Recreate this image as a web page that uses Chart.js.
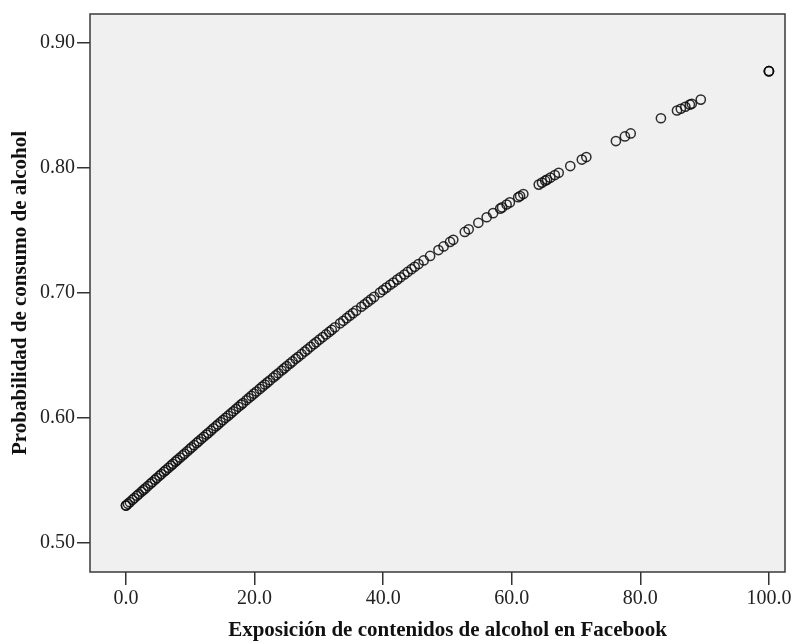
<!DOCTYPE html>
<html>
<head>
<meta charset="utf-8">
<script src="https://cdn.jsdelivr.net/npm/chart.js@4/dist/chart.umd.min.js"></script>
<style>
  html, body { margin: 0; padding: 0; background: #ffffff; }
  #wrap { width: 796px; height: 644px; }
</style>
</head>
<body>
<div id="wrap"><canvas id="c" width="796" height="644"></canvas></div>
<script>
// ---- Data ----
const exposicion = [
  0.0, 0.0, 0.3, 0.6, 1.0, 1.3, 1.7, 2.0, 2.4, 2.7, 3.0, 3.4, 3.8, 4.1, 4.5, 4.8,
  5.2, 5.5, 5.9, 6.2, 6.6, 7.0, 7.3, 7.7, 8.0, 8.4, 8.8, 9.1, 9.5, 9.9,
  10.2, 10.6, 11.0, 11.3, 11.7, 12.1, 12.5, 12.8, 13.2, 13.6, 14.0, 14.3, 14.7,
  15.1, 15.5, 15.9, 16.3, 16.7, 17.1, 17.5, 17.9, 18.2, 18.7, 19.1, 19.5, 19.9,
  20.3, 20.8, 21.2, 21.6, 22.0, 22.4, 22.9, 23.3, 23.7, 24.2, 24.6,
  25.0, 25.5, 25.9, 26.4, 26.8, 27.3, 27.8, 28.2, 28.7, 29.2, 29.6,
  30.1, 30.6, 31.1, 31.6, 32.0, 32.5, 33.3, 33.8, 34.3, 34.8,
  35.3, 35.8, 36.6, 37.1, 37.6, 38.1, 38.6, 39.5,
  40.0, 40.5, 41.1, 41.6, 42.2, 42.7, 43.3, 43.8, 44.4, 44.9,
  45.5, 46.3, 47.3, 48.6, 49.4,
  50.4, 50.9, 52.7, 53.3, 54.8,
  56.1, 57.1, 58.2, 58.5, 59.2, 59.7,
  61.0, 61.3, 61.8, 64.2, 64.7,
  65.2, 65.5, 66.0, 66.7, 67.3, 69.1,
  70.9, 71.6,
  76.2, 77.6, 78.5,
  83.2,
  85.7, 86.3, 87.0, 87.7, 88.0, 89.4,
  100.0, 100.0, 100.0
];
const probabilidad = [
  0.5300, 0.5300, 0.5314, 0.5327, 0.5346, 0.5360, 0.5378, 0.5392, 0.5410, 0.5424, 0.5437, 0.5456, 0.5474, 0.5488, 0.5506, 0.5520,
  0.5538, 0.5552, 0.5570, 0.5583, 0.5601, 0.5619, 0.5633, 0.5651, 0.5665, 0.5683, 0.5700, 0.5714, 0.5732, 0.5750,
  0.5764, 0.5782, 0.5800, 0.5813, 0.5831, 0.5849, 0.5867, 0.5880, 0.5898, 0.5917, 0.5934, 0.5948, 0.5966,
  0.5983, 0.6001, 0.6018, 0.6036, 0.6053, 0.6071, 0.6089, 0.6106, 0.6119, 0.6141, 0.6159, 0.6176, 0.6194,
  0.6211, 0.6232, 0.6250, 0.6267, 0.6284, 0.6301, 0.6323, 0.6340, 0.6357, 0.6379, 0.6396,
  0.6413, 0.6434, 0.6451, 0.6472, 0.6488, 0.6509, 0.6530, 0.6547, 0.6568, 0.6589, 0.6605,
  0.6626, 0.6646, 0.6667, 0.6687, 0.6703, 0.6724, 0.6756, 0.6776, 0.6797, 0.6817,
  0.6837, 0.6857, 0.6888, 0.6908, 0.6927, 0.6947, 0.6967, 0.7002,
  0.7022, 0.7041, 0.7064, 0.7082, 0.7105, 0.7124, 0.7146, 0.7166, 0.7188, 0.7207,
  0.7229, 0.7258, 0.7294, 0.7341, 0.7370,
  0.7406, 0.7423, 0.7486, 0.7507, 0.7559,
  0.7603, 0.7636, 0.7672, 0.7682, 0.7705, 0.7722,
  0.7763, 0.7773, 0.7789, 0.7864, 0.7880,
  0.7895, 0.7904, 0.7919, 0.7940, 0.7958, 0.8012,
  0.8064, 0.8084,
  0.8212, 0.8249, 0.8273,
  0.8394,
  0.8456, 0.8470, 0.8486, 0.8503, 0.8510, 0.8543,
  0.8770, 0.8770, 0.8770
];
const xTicks = [0, 20, 40, 60, 80, 100];
const xTickLabels = ['0.0', '20.0', '40.0', '60.0', '80.0', '100.0'];
const yTicks = [0.5, 0.6, 0.7, 0.8, 0.9];
const yTickLabels = ['0.50', '0.60', '0.70', '0.80', '0.90'];
const xTitle = 'Exposición de contenidos de alcohol en Facebook';
const yTitle = 'Probabilidad de consumo de alcohol';

// ---- Chart ----
const points = exposicion.map((x, i) => ({ x: x, y: probabilidad[i] }));

const tickFont = { family: '"Liberation Serif", serif', size: 20 };
const titleFont = { family: '"Liberation Serif", serif', size: 21, weight: 'bold', lineHeight: 1.2 };

const framePlugin = {
  id: 'frame',
  beforeDatasetsDraw(chart) {
    const a = chart.chartArea, ctx = chart.ctx;
    ctx.save();
    ctx.fillStyle = '#f0f0f0';
    ctx.fillRect(a.left, a.top, a.right - a.left, a.bottom - a.top);
    ctx.restore();
  },
  afterDraw(chart) {
    const a = chart.chartArea, ctx = chart.ctx;
    ctx.save();
    ctx.strokeStyle = '#3a3a3a';
    ctx.lineWidth = 1.5;
    ctx.strokeRect(a.left, a.top, a.right - a.left, a.bottom - a.top);
    // x axis title (slightly right of the plot centre, as in the reference)
    ctx.fillStyle = '#111';
    ctx.font = 'bold 21px "Liberation Serif", serif';
    ctx.textAlign = 'center';
    ctx.textBaseline = 'middle';
    ctx.fillText(xTitle, (a.left + a.right) / 2 + 10, 631);
    ctx.restore();
  }
};

new Chart(document.getElementById('c'), {
  type: 'scatter',
  data: {
    datasets: [{
      data: points,
      pointStyle: 'circle',
      pointRadius: 4.6,
      pointBorderWidth: 1.5,
      pointBorderColor: 'rgba(10,10,10,0.85)',
      pointBackgroundColor: 'rgba(0,0,0,0)',
      pointHoverRadius: 4.6
    }]
  },
  options: {
    responsive: false,
    animation: false,
    events: [],
    layout: { padding: { top: 12, right: 11, bottom: 0, left: 0 } },
    plugins: { legend: { display: false }, tooltip: { enabled: false } },
    scales: {
      x: {
        type: 'linear',
        min: -5.6,
        max: 102.5,
        afterBuildTicks: (s) => { s.ticks = xTicks.map(v => ({ value: v })); },
        afterFit: (s) => { s.height = 72; },
        ticks: {
          font: tickFont,
          color: '#222',
          padding: 2,
          maxRotation: 0,
          autoSkip: false,
          callback: (v, i) => xTickLabels[i]
        },
        grid: { drawOnChartArea: false, drawTicks: true, tickLength: 13, color: '#333', lineWidth: 1.5 },
        border: { display: false },
        title: { display: false }
      },
      y: {
        type: 'linear',
        min: 0.4769,
        max: 0.9227,
        afterBuildTicks: (s) => { s.ticks = yTicks.map(v => ({ value: v })); },
        afterFit: (s) => { s.width = 90; },
        ticks: {
          font: tickFont,
          color: '#222',
          padding: 2,
          autoSkip: false,
          callback: (v, i) => yTickLabels[i]
        },
        grid: { drawOnChartArea: false, drawTicks: true, tickLength: 13, color: '#333', lineWidth: 1.5 },
        border: { display: false },
        title: { display: true, text: yTitle, font: titleFont, color: '#111', padding: { top: 8, bottom: 0 } }
      }
    }
  },
  plugins: [framePlugin]
});
</script>
</body>
</html>
